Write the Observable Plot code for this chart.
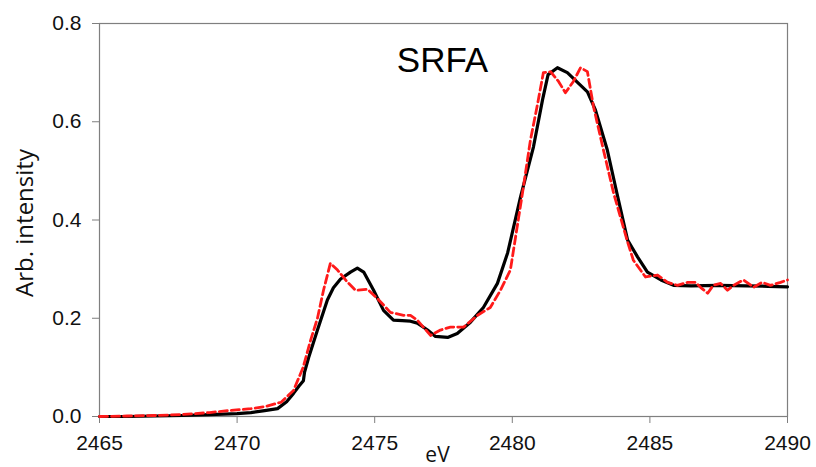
<!DOCTYPE html>
<html>
<head>
<meta charset="utf-8">
<script src="https://cdn.jsdelivr.net/npm/d3@7"></script>
<script src="https://cdn.jsdelivr.net/npm/@observablehq/plot@0.6"></script>
<style>
  html, body { margin: 0; padding: 0; background: #fff; }
  #chart svg { display: block; }
</style>
</head>
<body>
<div id="chart"></div>
<script>
// S K-edge XANES of SRFA: measured spectrum (black) and fit (red dashed)
const measuredEnergy = [2465.0, 2466.0, 2467.0, 2468.0, 2469.0, 2470.0, 2470.5, 2471.0, 2471.47, 2471.8,
  2472.05, 2472.25, 2472.41, 2472.45, 2472.6, 2472.92, 2473.28, 2473.5, 2473.76, 2474.12,
  2474.37, 2474.6, 2474.96, 2475.32, 2475.68, 2476.0, 2476.3, 2476.55, 2476.92, 2477.21,
  2477.65, 2478.0, 2478.48, 2478.95, 2479.46, 2479.83, 2480.3, 2480.77, 2481.1, 2481.3,
  2481.64, 2482.0, 2482.73, 2483.02, 2483.45, 2483.8, 2484.19, 2484.55, 2484.91, 2485.4,
  2485.86, 2486.5, 2487.5, 2488.5, 2489.3, 2490.0];
const measuredIntensity = [0.000, 0.000, 0.001, 0.002, 0.004, 0.006, 0.008, 0.012, 0.016, 0.030,
  0.047, 0.062, 0.073, 0.090, 0.120, 0.176, 0.237, 0.262, 0.280, 0.294,
  0.302, 0.294, 0.257, 0.216, 0.196, 0.195, 0.194, 0.190, 0.176, 0.163,
  0.161, 0.169, 0.192, 0.222, 0.271, 0.333, 0.447, 0.549, 0.645, 0.696,
  0.710, 0.700, 0.661, 0.624, 0.543, 0.455, 0.359, 0.325, 0.294, 0.278,
  0.267, 0.266, 0.267, 0.266, 0.265, 0.264];

const fitEnergy = [2465.0, 2466.0, 2467.0, 2468.0, 2469.0, 2469.5, 2470.1, 2470.5, 2471.0, 2471.6,
  2472.05, 2472.4, 2472.67, 2472.92, 2473.14, 2473.39, 2473.65, 2474.0, 2474.3, 2474.74,
  2475.1, 2475.57, 2476.05, 2476.3, 2476.55, 2477.03, 2477.39, 2477.75, 2478.23, 2478.74,
  2479.2, 2479.57, 2479.93, 2480.37, 2480.66, 2480.9, 2481.13, 2481.39, 2481.68, 2481.93,
  2482.22, 2482.48, 2482.73, 2482.95, 2483.31, 2483.68, 2484.19, 2484.4, 2484.84, 2485.28,
  2485.64, 2486.0, 2486.37, 2486.66, 2486.84, 2487.1, 2487.3, 2487.57, 2487.82, 2488.04,
  2488.4, 2488.77, 2489.08, 2489.38, 2489.75, 2490.0];
const fitIntensity = [0.000, 0.001, 0.002, 0.004, 0.008, 0.011, 0.014, 0.016, 0.020, 0.029,
  0.053, 0.100, 0.155, 0.200, 0.257, 0.312, 0.298, 0.274, 0.257, 0.259,
  0.240, 0.212, 0.206, 0.206, 0.196, 0.165, 0.176, 0.182, 0.182, 0.206,
  0.222, 0.257, 0.298, 0.455, 0.563, 0.631, 0.700, 0.702, 0.682, 0.659,
  0.682, 0.710, 0.702, 0.631, 0.543, 0.455, 0.355, 0.318, 0.284, 0.288,
  0.273, 0.267, 0.273, 0.273, 0.263, 0.251, 0.267, 0.271, 0.257, 0.267,
  0.278, 0.263, 0.273, 0.267, 0.273, 0.278];

const xTicks = [2465, 2470, 2475, 2480, 2485, 2490];
const yTicks = [0.0, 0.2, 0.4, 0.6, 0.8];
const sampleName = "SRFA";
const xTitle = "eV";
const yTitle = "Arb. intensity";

const measured = measuredEnergy.map((e, i) => ({e, v: measuredIntensity[i]}));
const fit = fitEnergy.map((e, i) => ({e, v: fitIntensity[i]}));

const axisGray = "#7f7f7f";
const tickFont = "'Liberation Sans', Arial, sans-serif";
const titleFont = "'Open Sans', sans-serif";

const chart = Plot.plot({
  width: 816,
  height: 467,
  marginLeft: 99,
  marginRight: 29,
  marginTop: 23,
  marginBottom: 51,
  style: {background: "#fff", overflow: "visible"},
  x: {domain: [2465, 2490]},
  y: {domain: [0, 0.8]},
  marks: [
    Plot.frame({stroke: axisGray, strokeWidth: 1.2}),
    Plot.axisX({ticks: xTicks, tickSize: 7, tickPadding: 12, stroke: axisGray, tickFormat: d3.format("d"),
      fontSize: 21, fontFamily: tickFont, color: "#111", label: null}),
    Plot.axisY({ticks: yTicks, tickSize: 7, tickPadding: 11, stroke: axisGray, tickFormat: d3.format(".1f"),
      fontSize: 21, fontFamily: tickFont, color: "#111", label: null}),
    Plot.line(measured, {x: "e", y: "v", stroke: "#000", strokeWidth: 3.2, strokeLinejoin: "round"}),
    Plot.line(fit, {x: "e", y: "v", stroke: "#ff1a1a", strokeWidth: 2.8, strokeDasharray: "8,4"}),
    Plot.text([yTitle], {text: d => d, frameAnchor: "left", textAnchor: "middle", rotate: -90, dx: -74, dy: 3,
      fontSize: 24, fontFamily: titleFont, fill: "#111"}),
    Plot.text([xTitle], {text: d => d, frameAnchor: "bottom", textAnchor: "middle", lineAnchor: "bottom", dx: -6, dy: 45,
      fontSize: 21, fontFamily: titleFont, fill: "#111"}),
    Plot.text([sampleName], {text: d => d, frameAnchor: "top", textAnchor: "middle", lineAnchor: "bottom", dx: -1, dy: 48,
      fontSize: 35, fontFamily: tickFont, fill: "#000"})
  ]
});
document.getElementById("chart").appendChild(chart);
</script>
</body>
</html>
